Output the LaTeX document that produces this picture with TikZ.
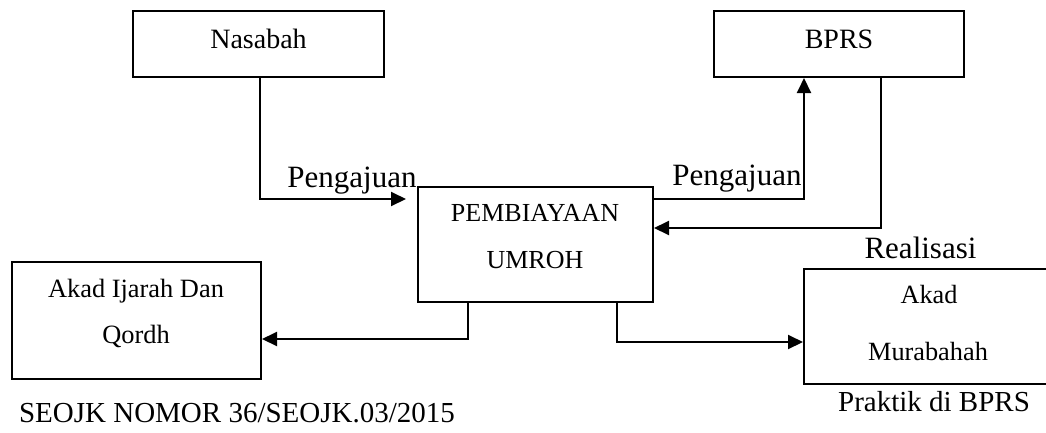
\documentclass[tikz,border=0pt]{standalone}
\usepackage{fontspec}
\setmainfont{Liberation Serif}
\usetikzlibrary{arrows.meta}
\tikzset{
  box/.style={draw, line width=2pt, minimum width=#1, inner sep=0pt},
  lbl/.style={anchor=base, inner sep=0pt},
  conn/.style={line width=2pt, -{Triangle[length=15pt,width=14pt]}},
}
\newcommand{\fs}[1]{\fontsize{#1}{#1}\selectfont}
\begin{document}
\begin{tikzpicture}[x=1pt,y=-1pt]
\useasboundingbox (0,0) rectangle (1046,432);
\clip (0,0) rectangle (1046,432);
% boxes
\node[box=251pt, minimum height=66pt] (nas) at (258.5,44) {};
\node[box=250pt, minimum height=66pt] (bprs) at (839,44) {};
\node[box=235pt, minimum height=115pt] (pem) at (535.5,244.5) {};
\node[box=249pt, minimum height=117pt] (ija) at (136.5,320.5) {};
\node[box=260pt, minimum height=115pt] (mur) at (934,326.5) {};
% box texts
\node[lbl, font=\fs{28}] (tnas) at (258.5,48) {Nasabah};
\node[lbl, font=\fs{28}] (tbprs) at (839,48) {BPRS};
\node[lbl, font=\fs{26}] (tpem1) at (535,221) {PEMBIAYAAN};
\node[lbl, font=\fs{26}] (tpem2) at (535,268) {UMROH};
\node[lbl, font=\fs{26.4}] (tija1) at (136,297) {Akad Ijarah Dan};
\node[lbl, font=\fs{26.4}] (tija2) at (136,343) {Qordh};
\node[lbl, font=\fs{26.3}] (tmur1) at (929,303) {Akad};
\node[lbl, font=\fs{26.3}] (tmur2) at (928,360) {Murabahah};
% labels
\node[lbl, font=\fs{31}] (p1) at (352,187) {Pengajuan};
\node[lbl, font=\fs{31}] (p2) at (737,185) {Pengajuan};
\node[lbl, font=\fs{31}] (real) at (920.5,258) {Realisasi};
\node[lbl, font=\fs{29}] (seojk) at (237,422) {SEOJK NOMOR 36/SEOJK.03/2015};
\node[lbl, font=\fs{29}] (prak) at (934,411) {Praktik di BPRS};
% connectors
\draw[conn, shorten >=11pt] (nas.south -| 260,0) |- (pem.west |- 0,199);
\draw[conn] (pem.east |- 0,199) -| (bprs.south -| 804,0);
\draw[conn] (bprs.south -| 881,0) |- (pem.east |- 0,228);
\draw[conn] (pem.south -| 468,0) |- (ija.east |- 0,339);
\draw[conn] (pem.south -| 617,0) |- (mur.west |- 0,342);
\end{tikzpicture}
\end{document}
